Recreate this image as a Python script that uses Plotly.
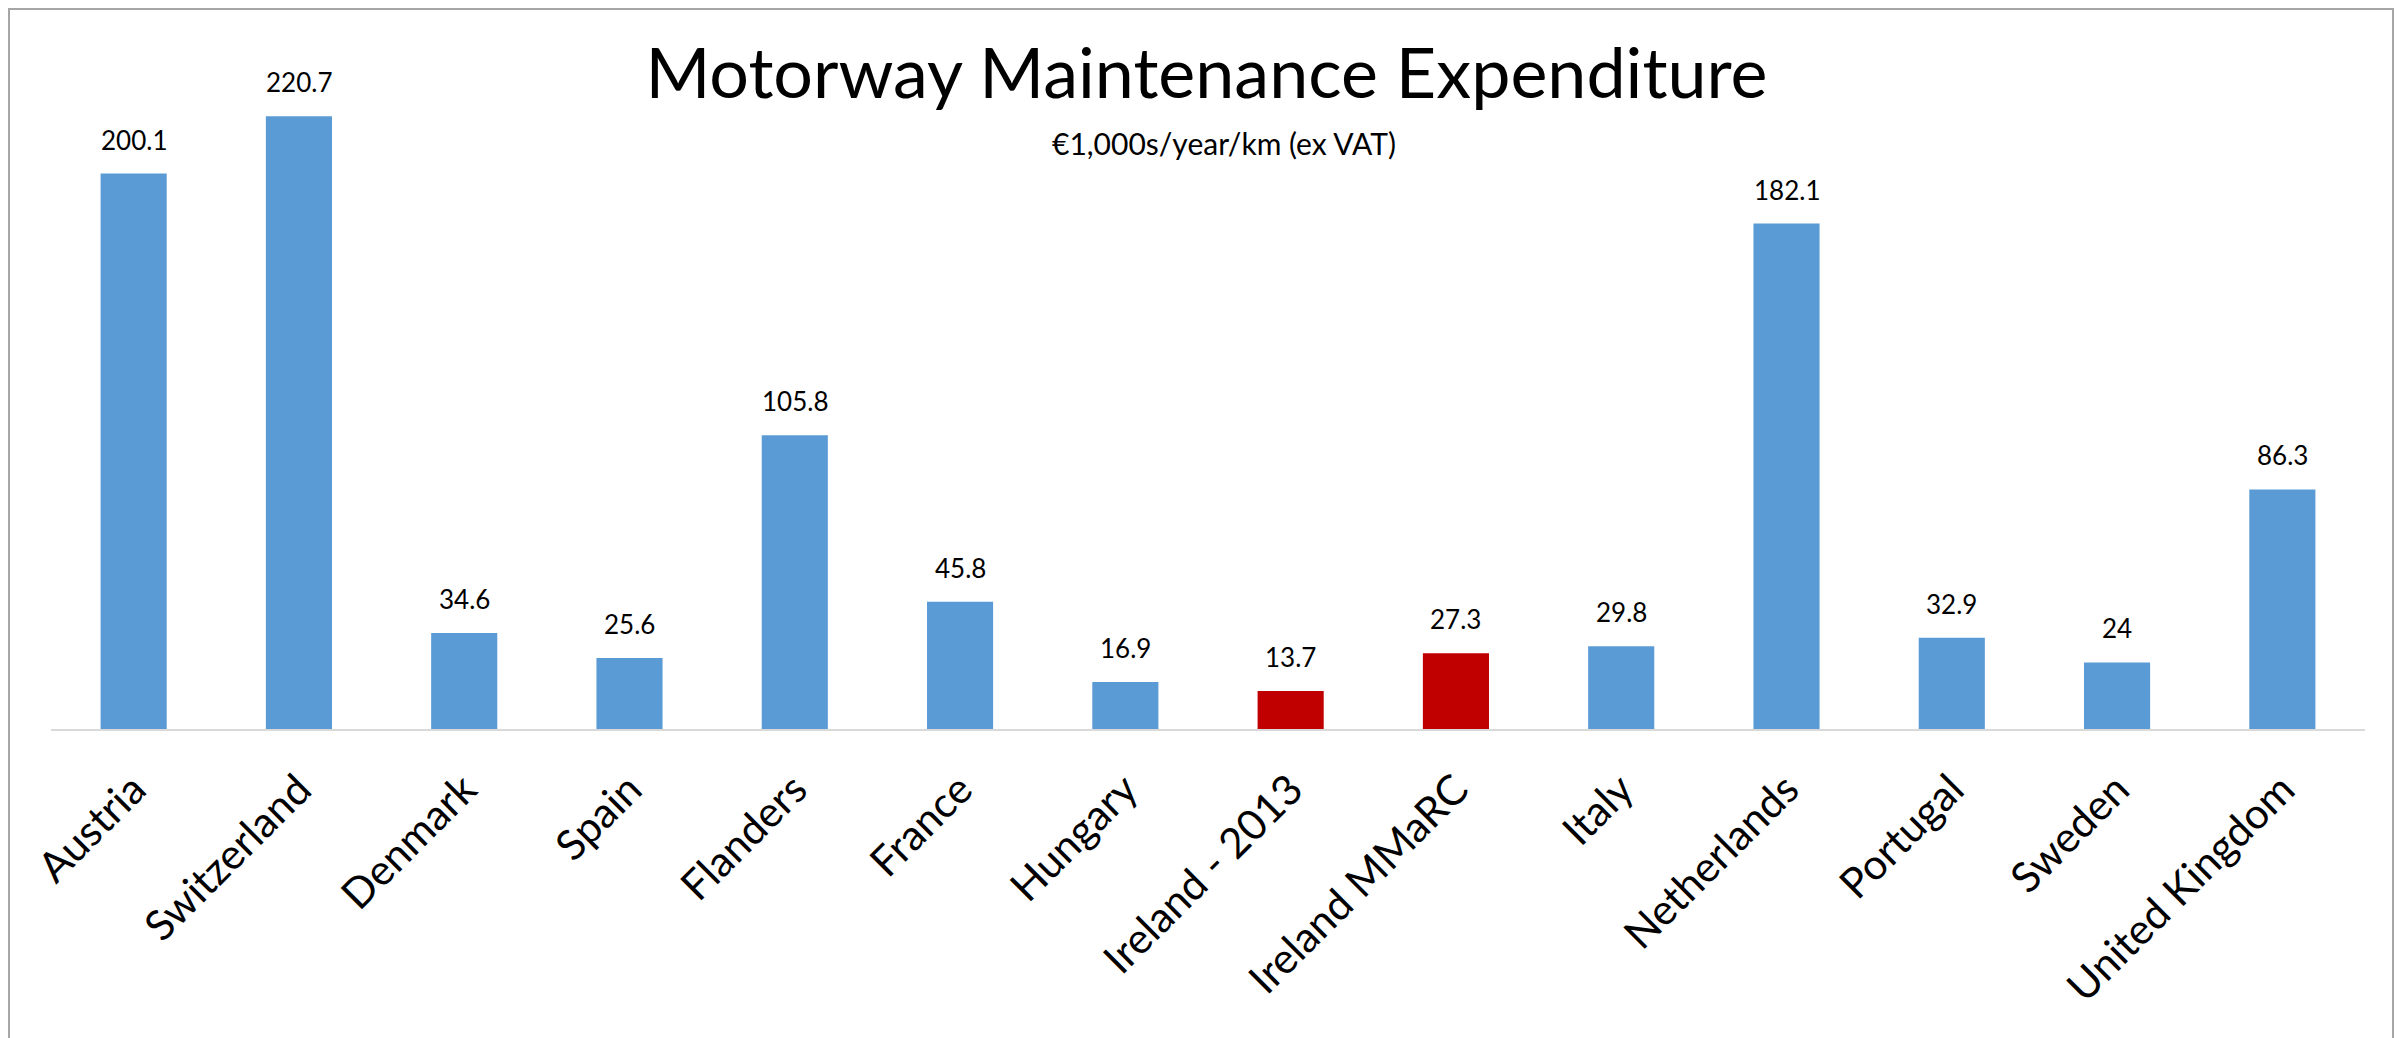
import plotly.graph_objects as go

# data
countries = ["Austria", "Switzerland", "Denmark", "Spain", "Flanders", "France", "Hungary",
             "Ireland - 2013", "Ireland MMaRC", "Italy", "Netherlands", "Portugal", "Sweden",
             "United Kingdom"]
expenditure = [200.1, 220.7, 34.6, 25.6, 105.8, 45.8, 16.9, 13.7, 27.3, 29.8, 182.1, 32.9, 24, 86.3]
highlight = ["Ireland - 2013", "Ireland MMaRC"]

BLUE = "#5b9bd5"
RED = "#c00000"
FONT = "Lato"

# the page body adds an 8px margin, so the figure is a bit smaller than the window
W, H = 2397, 1030

bar_colors = [RED if c in highlight else BLUE for c in countries]

fig = go.Figure()
fig.add_trace(go.Bar(
    x=countries,
    y=expenditure,
    marker=dict(color=bar_colors, line=dict(width=0)),
    hoverinfo="x+y",
))

# value labels sit a bit higher above the bars than plotly's "outside" text
value_labels = [
    dict(x=c, y=v, text=f"{v:g}", xref="x", yref="y", showarrow=False,
         yanchor="bottom", yshift=16, font=dict(family=FONT, size=26, color="#000000"))
    for c, v in zip(countries, expenditure)
]

fig.update_layout(
    width=W,
    height=H,
    margin=dict(l=43, r=40, t=52, b=309, autoexpand=False),
    paper_bgcolor="white",
    plot_bgcolor="white",
    showlegend=False,
    bargap=0.6,
    title=dict(
        text="Motorway Maintenance Expenditure",
        font=dict(family=FONT, size=70, color="#000000"),
        x=0.5, xanchor="center",
        y=1 - 65 / H, yanchor="middle",
    ),
    annotations=value_labels + [dict(
        text="€1,000s/year/km (ex VAT)",
        xref="paper", yref="paper", x=0.507, y=(729 - 143) / 669,
        xanchor="center", yanchor="middle", showarrow=False,
        font=dict(family=FONT, size=30, color="#000000"),
    )],
    # chart-area frame (bottom edge runs off the page)
    shapes=[dict(
        type="rect", xref="paper", yref="paper",
        x0=-0.01815, x1=1.0121, y0=-0.6, y1=1.0762,
        line=dict(color="#a6a6a6", width=2), fillcolor="rgba(0,0,0,0)", layer="above",
    )],
    xaxis=dict(
        showline=True, linecolor="#d9d9d9", linewidth=2,
        showgrid=False, ticks="", tickangle=-45, automargin=False,
        tickfont=dict(family=FONT, size=42, color="#000000"),
        ticklabelstandoff=17,
    ),
    yaxis=dict(
        range=[0, 241], visible=False, showgrid=False, zeroline=False, automargin=False,
    ),
)

fig.write_html("out.html")
